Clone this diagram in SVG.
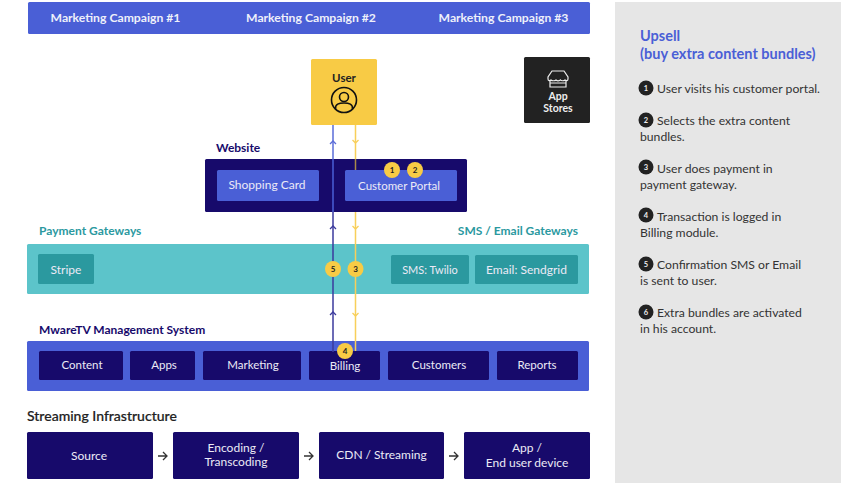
<svg xmlns="http://www.w3.org/2000/svg" width="841" height="483" viewBox="0 0 841 483">
<defs>
<style>
text{font-family:"Lato","Liberation Sans",sans-serif}
.w{fill:#eceaf6;font-size:12px;text-anchor:middle}
.m{fill:#eceaf6;font-size:11.500px;text-anchor:middle}
.wb{fill:#eef0fa;font-size:12.200px;font-weight:700;text-anchor:middle}
.navy{fill:#170a6b}
.blue{fill:#4a5fd6}
.teal{fill:#5cc4ca}
.dteal{fill:#2b999f}
.yel{fill:#f8cb45}
.h{font-size:12px;font-weight:700}
.n{fill:#222;font-size:8px;font-weight:700;text-anchor:middle}
.s{fill:#333;font-size:12.200px}
.dn{fill:#eee;font-size:7.500px;font-weight:700;text-anchor:middle}
.big{font-size:14.500px;font-weight:700;fill:#4a5fd6}
.ar{fill:none;stroke:#333;stroke-width:1.300}
.chev{fill:none;stroke-width:1.300}
</style>
</defs>
<rect x="0" y="0" width="841" height="483" fill="#fff"/>
<rect x="615" y="2" width="226" height="481" fill="#e6e6e6"/>
<g id="campaigns">
<rect class="blue" x="28" y="2" width="562" height="32" rx="1.500"/>
<text class="wb" x="115.500" y="22">Marketing Campaign #1</text>
<text class="wb" x="311" y="22">Marketing Campaign #2</text>
<text class="wb" x="503.500" y="22">Marketing Campaign #3</text>
</g>
<g id="website">
<text class="h" x="216" y="152" fill="#170a6b">Website</text>
<rect class="navy" x="205" y="159" width="262" height="53" rx="1.500"/>
<rect class="blue" x="217" y="170" width="102" height="31" rx="1.500"/>
<text class="w" x="267" y="189">Shopping Card</text>
<rect class="blue" x="345" y="170" width="112" height="31" rx="1.500"/>
<text class="m" x="399" y="190">Customer Portal</text>
</g>
<g id="gateways">
<text class="h" x="39" y="235" fill="#2b999f">Payment Gateways</text>
<text class="h" x="578" y="235" fill="#2b999f" text-anchor="end">SMS / Email Gateways</text>
<rect class="teal" x="27" y="244" width="562" height="50" rx="1.500"/>
<rect class="dteal" x="38" y="254" width="56" height="30" rx="1.500"/>
<text class="w" x="66" y="274">Stripe</text>
<rect class="dteal" x="391" y="255" width="78" height="29" rx="1.500"/>
<text class="w" style="font-size:11px" x="430" y="273.500">SMS: Twilio</text>
<rect class="dteal" x="475" y="255" width="103" height="29" rx="1.500"/>
<text class="w" x="526.500" y="273.500">Email: Sendgrid</text>
</g>
<g id="mwaretv">
<text class="h" x="39" y="334" fill="#170a6b">MwareTV Management System</text>
<rect class="blue" x="27" y="341" width="562" height="50" rx="1.500"/>
<rect class="navy" x="39" y="351" width="84" height="29" rx="1.500"/><text class="m" x="82" y="369">Content</text>
<rect class="navy" x="130" y="351" width="65" height="29" rx="1.500"/><text class="m" x="164" y="369">Apps</text>
<rect class="navy" x="203" y="351" width="98" height="29" rx="1.500"/><text class="m" x="253" y="369">Marketing</text>
<rect class="navy" x="309" y="351" width="71" height="29" rx="1.500"/><text class="m" x="345" y="370">Billing</text>
<rect class="navy" x="388" y="351" width="101" height="29" rx="1.500"/><text class="m" x="439" y="369">Customers</text>
<rect class="navy" x="497" y="351" width="81" height="29" rx="1.500"/><text class="m" x="537" y="369">Reports</text>
</g>
<g id="connectors">
<path d="M333 125V159" stroke="#5a6cd8" stroke-width="1.500" fill="none"/>
<path d="M333 159V212" stroke="#4a5fd6" stroke-width="1.500" fill="none"/>
<path d="M333 212V352" stroke="#3b3a9c" stroke-width="1.500" fill="none"/>
<path d="M355.500 125V159M355.500 212V351" stroke="#f8cf5a" stroke-width="1.500" fill="none"/>
<path d="M355.500 159V170" stroke="#a8894a" stroke-width="1.500" fill="none"/>
<path class="chev" stroke="#5a6cd8" d="M330 144L333 141L336 144"/>
<path class="chev" stroke="#3b3a9c" d="M330 229L333 226L336 229M330 315L333 312L336 315"/>
<path class="chev" stroke="#f8cf5a" d="M352.500 140L355.500 143L358.500 140M352.500 226L355.500 229L358.500 226M352.500 313L355.500 316L358.500 313"/>
</g>
<g id="user">
<rect class="yel" x="311" y="59" width="66" height="66" rx="1.500"/>
<text x="344" y="82" fill="#222" font-size="11.500" font-weight="700" text-anchor="middle">User</text>
<circle cx="344" cy="100" r="12.500" fill="none" stroke="#111" stroke-width="1.600"/>
<circle cx="344" cy="97" r="4.500" fill="none" stroke="#111" stroke-width="1.600"/>
<path d="M335.500 109C335 104 339 103 344 103C349 103 353 104 352.500 109" fill="none" stroke="#111" stroke-width="1.600"/>
</g>
<g id="appstores">
<rect x="524" y="57" width="66" height="66" rx="1.500" fill="#222"/>
<path d="M552 71H564L568 77V79C568 81 566 81 565 80C564 81 561 81 560.500 80C559 81 557 81 556 80C555 81 552 81 551 80C550 81 548 81 548 79V77ZM550 81V87H566V81M550 83H566" fill="none" stroke="#eee" stroke-width="1.200"/>
<text x="558" y="99.500" fill="#eee" font-size="10.500" font-weight="700" text-anchor="middle">App</text>
<text x="558" y="111.500" fill="#eee" font-size="10.500" font-weight="700" text-anchor="middle">Stores</text>
</g>
<g id="badges">
<circle class="yel" cx="392" cy="170" r="8"/><text class="n" x="392" y="173">1</text>
<circle class="yel" cx="415" cy="170" r="8"/><text class="n" x="415" y="173">2</text>
<circle class="yel" cx="333" cy="269" r="8"/><text class="n" x="333" y="272">5</text>
<circle class="yel" cx="355.500" cy="269" r="8"/><text class="n" x="355.500" y="272">3</text>
<circle class="yel" cx="345" cy="351" r="8"/><text class="n" x="345" y="354">4</text>
</g>
<g id="streaming">
<text x="27" y="421" fill="#222" font-size="14" font-weight="500" stroke="#222" stroke-width="0.200">Streaming Infrastructure</text>
<rect class="navy" x="27" y="432" width="126" height="47" rx="1.500"/>
<text class="w" x="89" y="460">Source</text>
<rect class="navy" x="173" y="432" width="126" height="47" rx="1.500"/>
<text class="w" x="236" y="452">Encoding /</text><text class="w" x="236" y="466">Transcoding</text>
<rect class="navy" x="319" y="432" width="125" height="47" rx="1.500"/>
<text class="w" x="381.500" y="459">CDN / Streaming</text>
<rect class="navy" x="464" y="432" width="126" height="47" rx="1.500"/>
<text class="w" x="527" y="452">App /</text><text class="w" x="527" y="467">End user device</text>
<path class="ar" d="M158 456H167M163 452L167 456L163 460"/>
<path class="ar" d="M304 456H313M309 452L313 456L309 460"/>
<path class="ar" d="M449 456H458M454 452L458 456L454 460"/>
</g>
<g id="upsell">
<text class="big" x="640" y="41">Upsell</text>
<text class="big" x="640" y="59">(buy extra content bundles)</text>
<circle cx="646" cy="88" r="7.500" fill="#222"/><text class="dn" x="646" y="91">1</text>
<text class="s" x="657" y="93">User visits his customer portal.</text>
<circle cx="646" cy="120" r="7.500" fill="#222"/><text class="dn" x="646" y="123">2</text>
<text class="s" x="657" y="125">Selects the extra content</text>
<text class="s" x="640" y="141">bundles.</text>
<circle cx="646" cy="167" r="7.500" fill="#222"/><text class="dn" x="646" y="170">3</text>
<text class="s" x="657" y="173">User does payment in</text>
<text class="s" x="640" y="189">payment gateway.</text>
<circle cx="646" cy="215" r="7.500" fill="#222"/><text class="dn" x="646" y="218">4</text>
<text class="s" x="657" y="221">Transaction is logged in</text>
<text class="s" x="640" y="237">Billing module.</text>
<circle cx="646" cy="264" r="7.500" fill="#222"/><text class="dn" x="646" y="267">5</text>
<text class="s" x="657" y="269">Confirmation SMS or Email</text>
<text class="s" x="640" y="285">is sent to user.</text>
<circle cx="646" cy="312" r="7.500" fill="#222"/><text class="dn" x="646" y="315">6</text>
<text class="s" x="657" y="317">Extra bundles are activated</text>
<text class="s" x="640" y="333">in his account.</text>
</g>
</svg>
